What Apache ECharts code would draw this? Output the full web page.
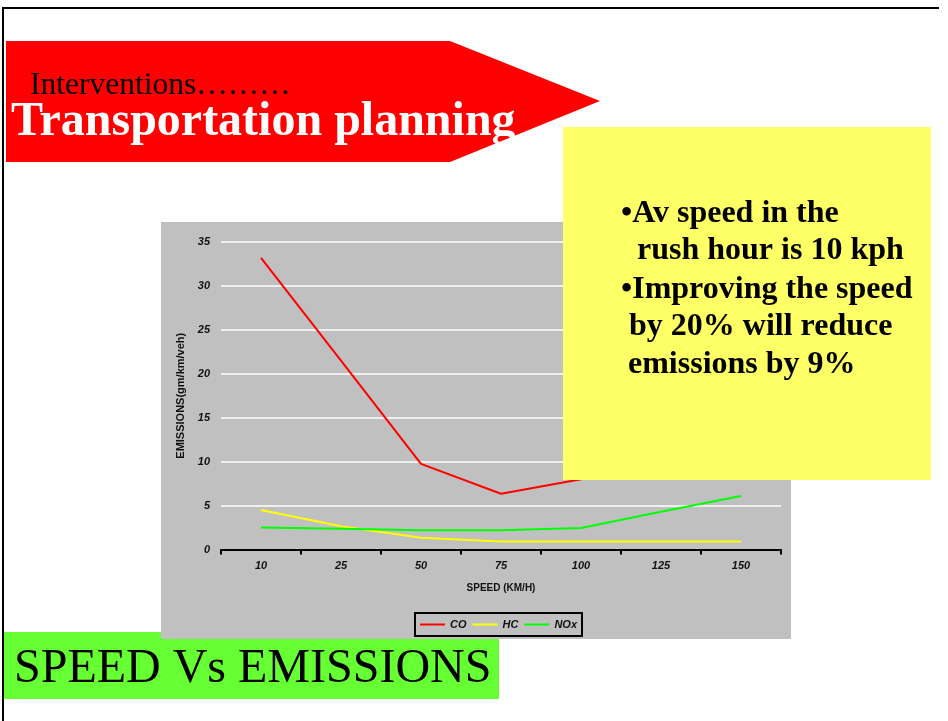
<!DOCTYPE html>
<html><head><meta charset="utf-8">
<script src="https://cdn.jsdelivr.net/npm/echarts@6/dist/echarts.min.js"></script>
<style>html,body{margin:0;padding:0;background:#fff;}#c{width:948px;height:721px;}</style>
</head><body><div id="c"></div>
<script>
// ---- data ----
const categories = ['10', '25', '50', '75', '100', '125', '150'];
const coValues  = [33.2, 21.5, 9.75, 6.35, 8.0, 10.5, 13.0];
const hcValues  = [4.5, 2.65, 1.35, 0.9, 0.9, 0.9, 0.9];
const noxValues = [2.5, 2.35, 2.2, 2.2, 2.45, 4.3, 6.1];
const seriesNames = ['CO', 'HC', 'NOx'];
const yMin = 0, yMax = 35, yStep = 5;
const xTitle = 'SPEED (KM/H)';
const yTitle = 'EMISSIONS(gm/km/veh)';
const headerSmall = 'Interventions\u2026\u2026\u2026';
const headerBig = 'Transportation planning';
const noteLines = ['\u2022Av speed in the', 'rush hour is 10 kph', '\u2022Improving the speed', 'by 20% will reduce', 'emissions by 9%'];
const footerText = 'SPEED Vs EMISSIONS';

// ---- styles ----
const SANS = '"Liberation Sans", Arial, sans-serif';
const SERIF = '"Liberation Serif", "Times New Roman", serif';
const colors = ['#FF0000', '#FFFF00', '#00FF00'];
const noteX = [621, 637, 621, 629, 628];
const noteBase = [220, 257, 296, 333, 371];

const chart = echarts.init(document.getElementById('c'), null, {renderer: 'canvas'});

const txt = (text, x, baseline, size, weight, fill, z) => ({
  type: 'text', z: z, silent: true,
  style: {text: text, x: x, y: baseline - 0.19 * size, verticalAlign: 'middle', align: 'left',
          font: weight + ' ' + size + 'px ' + SERIF, fill: fill}
});

const graphics = [
  // frame
  {type: 'line', z: 50, shape: {x1: 2, y1: 8, x2: 939, y2: 8}, style: {stroke: '#000', lineWidth: 2}},
  {type: 'line', z: 50, shape: {x1: 3, y1: 7, x2: 3, y2: 721}, style: {stroke: '#000', lineWidth: 2}},
  // footer green box (under chart panel)
  {type: 'rect', z: -20, shape: {x: 4, y: 632, width: 495, height: 67}, style: {fill: '#66FF33'}},
  txt(footerText, 14, 679, 48, 'normal', '#000', -19),
  // chart panel
  {type: 'rect', z: -10, shape: {x: 161, y: 222, width: 630, height: 417}, style: {fill: '#C0C0C0'}},
  // red arrow
  {type: 'polygon', z: 100, shape: {points: [[6, 41], [450, 41], [600, 101], [450, 162], [6, 162]]}, style: {fill: '#FF0000'}},
  txt(headerSmall, 30, 92, 31.5, 'normal', '#000', 101),
  txt(headerBig, 11, 132, 48, 'bold', '#FFFFFF', 101),
  // yellow note
  {type: 'rect', z: 100, shape: {x: 563, y: 127, width: 368, height: 353}, style: {fill: '#FFFF66'}}
];
noteLines.forEach((t, i) => graphics.push(txt(t, noteX[i], noteBase[i], 32, 'bold', '#000', 101)));

const labelStyle = {fontFamily: SANS, fontStyle: 'italic', fontWeight: 'bold', fontSize: 11, color: '#111'};

chart.setOption({
  animation: false,
  backgroundColor: '#FFFFFF',
  grid: {left: 221, right: 167, top: 242, bottom: 171.5, containLabel: false},
  legend: {
    data: seriesNames.map(n => ({name: n, icon: 'rect'})), left: 415, top: 613, orient: 'horizontal',
    padding: [5, 5], itemGap: 6, itemWidth: 25, itemHeight: 2,
    borderColor: '#000', borderWidth: 2, backgroundColor: 'transparent',
    textStyle: Object.assign({lineHeight: 13}, labelStyle)
  },
  xAxis: {
    type: 'category', data: categories, boundaryGap: true,
    axisLine: {lineStyle: {color: '#000', width: 2}},
    axisTick: {show: true, length: 5, lineStyle: {color: '#000', width: 2}},
    axisLabel: Object.assign({margin: 11}, labelStyle),
    splitLine: {show: false},
    name: xTitle, nameLocation: 'middle', nameGap: 34,
    nameTextStyle: {fontFamily: SANS, fontWeight: 'bold', fontSize: 10, color: '#111'}
  },
  yAxis: {
    type: 'value', min: yMin, max: yMax, interval: yStep,
    axisLine: {show: false}, axisTick: {show: false},
    axisLabel: Object.assign({margin: 11}, labelStyle),
    splitLine: {lineStyle: {color: '#FFFFFF', width: 1.5}},
    name: yTitle, nameLocation: 'middle', nameGap: 24, nameRotate: 90,
    nameTextStyle: {fontFamily: SANS, fontWeight: 'bold', fontSize: 11, color: '#111'}
  },
  series: [coValues, hcValues, noxValues].map((d, i) => ({
    name: seriesNames[i], type: 'line', data: d, symbol: 'none', showSymbol: false,
    lineStyle: {color: colors[i], width: 2}, itemStyle: {color: colors[i]}, z: 2
  })),
  graphic: graphics
});
</script>
</body></html>
